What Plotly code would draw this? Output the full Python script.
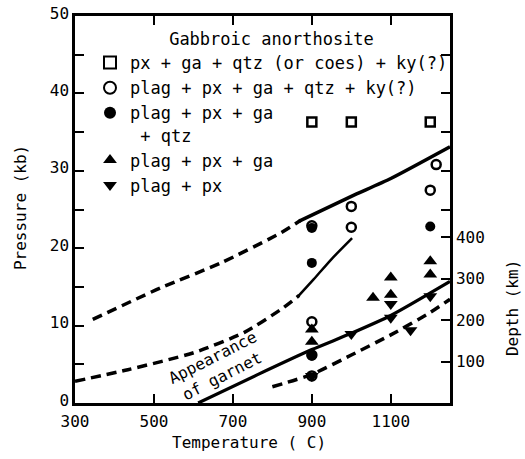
import plotly.graph_objects as go

# ---------------- data ----------------
# Experimental runs (Temperature C, Pressure kb)
sq_T = [900, 1000, 1200]
sq_P = [36.3, 36.3, 36.3]

oc_T = [1215, 1200, 1000, 1000, 900, 900, 900, 900]
oc_P = [30.8, 27.5, 25.4, 22.7, 22.9, 10.5, 6.2, 3.5]

fc_T = [900, 900, 1200, 900]
fc_P = [22.6, 18.1, 22.8, 6.1]

ut_T = [1055, 1100, 1100, 1200, 1200, 900, 900]
ut_P = [13.6, 16.2, 14.0, 18.3, 16.6, 9.5, 7.9]

dt_T = [1000, 1100, 1100, 1150, 1200, 900]
dt_P = [8.9, 11.0, 12.8, 9.4, 13.8, 3.5]

# Boundary curves
upper_dash_T = [345, 518, 670, 822, 872]
upper_dash_P = [10.8, 14.9, 18.1, 22.0, 23.6]
upper_solid_T = [868, 1000, 1100, 1250]
upper_solid_P = [23.5, 26.7, 29.0, 33.1]

mid_dash_T = [300, 434, 601, 728, 822, 868]
mid_dash_P = [2.8, 4.3, 6.5, 9.1, 12.1, 13.9]
mid_solid_T = [864, 905, 950, 1002]
mid_solid_P = [13.7, 16.0, 18.6, 21.3]

garnet_T = [612, 760, 900, 1000, 1100, 1250]
garnet_P = [0.0, 3.6, 6.9, 9.0, 11.3, 15.7]

low_dash_T = [800, 900, 1000, 1100, 1200, 1250]
low_dash_P = [2.1, 3.7, 6.2, 8.8, 11.7, 13.4]

x_ticks = [300, 500, 700, 900, 1100]
p_ticks = [0, 10, 20, 30, 40, 50]
depth_ticks = [100, 200, 300, 400]
right_p_ticks = [25, 30, 35, 40, 45]
KM_PER_KB = 18.7

FONT = "DejaVu Sans Mono"

fig = go.Figure()

def line(T, P, width, dash=None):
    fig.add_trace(go.Scatter(
        x=T, y=P, mode="lines", showlegend=False, hoverinfo="skip",
        line=dict(color="black", width=width, dash=dash, shape="spline", smoothing=0.6)))

line(upper_dash_T, upper_dash_P, 3.5, "10px,6px")
line(upper_solid_T, upper_solid_P, 3.5)
line(mid_dash_T, mid_dash_P, 3.5, "10px,6px")
line(mid_solid_T, mid_solid_P, 2.5)
line(garnet_T, garnet_P, 3.2)
line(low_dash_T, low_dash_P, 3.5, "10px,6px")

def pts(T, P, name, symbol, size, lw=0):
    fig.add_trace(go.Scatter(
        x=T, y=P, mode="markers", name=name,
        marker=dict(symbol=symbol, size=size, color="black",
                    line=dict(color="black", width=lw))))

pts(sq_T, sq_P, "px + ga + qtz (or coes) + ky(?)", "square-open", 9, 2.5)
pts(oc_T, oc_P, "plag + px + ga + qtz + ky(?)", "circle-open", 9, 2.5)
pts(fc_T, fc_P, "plag + px + ga<br>\u00a0+ qtz", "circle", 10)
pts(ut_T, ut_P, "plag + px + ga", "triangle-up", 12)
pts(dt_T, dt_P, "plag + px", "triangle-down", 12)

# helper traces for the right-hand axes
fig.add_trace(go.Scatter(x=[None], y=[None], yaxis="y2", showlegend=False, hoverinfo="skip"))
fig.add_trace(go.Scatter(x=[None], y=[None], yaxis="y3", showlegend=False, hoverinfo="skip"))

fig.add_annotation(x=660, y=4.7, xref="x", yref="y", text="Appearance<br>of garnet",
                   textangle=-27, showarrow=False, xanchor="center", yanchor="middle",
                   font=dict(family=FONT, size=16, color="black"))

fig.add_annotation(x=0.464, y=-0.103, xref="paper", yref="paper", text="Temperature ( C)",
                   showarrow=False, xanchor="center", yanchor="middle",
                   font=dict(family=FONT, size=16, color="black"))
fig.add_annotation(x=-0.147, y=0.506, xref="paper", yref="paper", text="Pressure (kb)",
                   textangle=-90, showarrow=False, xanchor="center", yanchor="middle",
                   font=dict(family=FONT, size=16, color="black"))
fig.add_annotation(x=1.165, y=0.245, xref="paper", yref="paper", text="Depth (km)",
                   textangle=-90, showarrow=False, xanchor="center", yanchor="middle",
                   font=dict(family=FONT, size=16, color="black"))

axis_common = dict(showgrid=False, zeroline=False, linecolor="black", linewidth=2.5,
                   tickcolor="black", tickwidth=2, ticks="inside", ticklen=9, automargin=False,
                   tickfont=dict(family=FONT, size=16, color="black"))

fig.update_layout(
    width=525, height=459,
    margin=dict(l=75, r=75, t=16, b=56),
    paper_bgcolor="white", plot_bgcolor="white",
    font=dict(family=FONT, color="black"),
    xaxis=dict(range=[300, 1250], tickvals=x_ticks, showline=True, mirror="ticks",
               ticklabelstandoff=2, **axis_common),
    yaxis=dict(range=[0, 50], tickvals=p_ticks, showline=True, mirror=False, ticklabelshift=-3,
               minor=dict(dtick=5, ticks="inside", ticklen=9, tickwidth=2, tickcolor="black"),
               **axis_common),
    yaxis2=dict(range=[0, 50 * KM_PER_KB], tickvals=depth_ticks, overlaying="y", side="right",
                showline=True, **axis_common),
    yaxis3=dict(range=[0, 50], tickvals=right_p_ticks, overlaying="y", side="right",
                showline=False, showticklabels=False, **{k: v for k, v in axis_common.items() if k != "tickfont"}),
    legend=dict(x=0.04, y=0.982, xanchor="left", yanchor="top", bgcolor="rgba(0,0,0,0)",
                font=dict(family=FONT, size=17, color="black"),
                title=dict(text="Gabbroic anorthosite", side="top center",
                           font=dict(family=FONT, size=17, color="black")),
                valign="top", tracegroupgap=0, itemsizing="constant"),
)

fig.write_html("out.html")
